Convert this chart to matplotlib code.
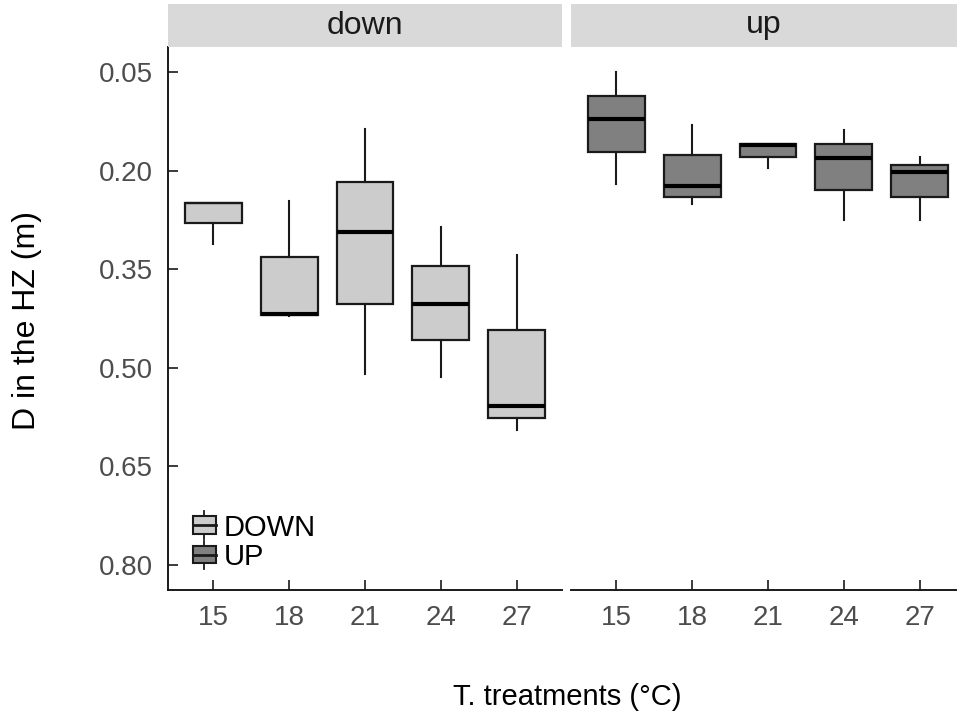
import matplotlib.pyplot as plt
from matplotlib.legend_handler import HandlerBase
from matplotlib.patches import Patch, Rectangle
from matplotlib.lines import Line2D

plt.rcParams['font.family'] = ['Liberation Sans', 'DejaVu Sans']

temps = ["15", "18", "21", "24", "27"]
panels = ["down", "up"]
colors = {"down": "#cccccc", "up": "#808080"}

# box stats: upper whisker, q1, median, q3, lower whisker
down_whislo = [0.2485, 0.2454, 0.1368, 0.285, 0.3281]
down_q1 = [0.2485, 0.3307, 0.2165, 0.3444, 0.4416]
down_med = [0.2485, 0.418, 0.2931, 0.4027, 0.5575]
down_q3 = [0.2798, 0.4194, 0.4027, 0.4575, 0.5757]
down_whishi = [0.3118, 0.421, 0.5092, 0.5142, 0.5949]

up_whislo = [0.050, 0.1298, 0.1587, 0.1378, 0.1789]
up_q1 = [0.0861, 0.1763, 0.1587, 0.1596, 0.1906]
up_med = [0.1211, 0.2235, 0.1607, 0.1809, 0.2017]
up_q3 = [0.1713, 0.2398, 0.1789, 0.2296, 0.2403]
up_whishi = [0.2205, 0.2509, 0.1961, 0.2744, 0.2744]

data = {
    "down": (down_whislo, down_q1, down_med, down_q3, down_whishi),
    "up": (up_whislo, up_q1, up_med, up_q3, up_whishi),
}

BOX_LW = 1.6


class BoxHandler(HandlerBase):
    def create_artists(self, legend, orig_handle, xdescent, ydescent,
                       width, height, fontsize, trans):
        fc = orig_handle.get_facecolor()
        w = width
        x0 = -xdescent
        y0 = -ydescent
        cx = x0 + w / 2
        whisk = Line2D([cx, cx], [y0 - height * 0.3, y0 + height * 1.3],
                       color="#1a1a1a", lw=1.3, transform=trans)
        rect = Rectangle((x0, y0), w, height, facecolor=fc,
                         edgecolor="#1a1a1a", lw=1.5, transform=trans)
        med = Line2D([x0, x0 + w], [y0 + height / 2, y0 + height / 2],
                     color="#1a1a1a", lw=2.0, transform=trans)
        return [whisk, rect, med]


fig = plt.figure(figsize=(9.57, 7.19), dpi=100)
bottom = 1 - 590 / 719
top = 1 - 47 / 719
lefts = [168 / 957, 571 / 957]
width = 394 / 957

axes = []
for i, p in enumerate(panels):
    ax = fig.add_axes([lefts[i], bottom, width, top - bottom])
    wl, q1, md, q3, wh = data[p]
    stats = []
    for j in range(len(temps)):
        stats.append({"whislo": wl[j], "q1": q1[j], "med": md[j],
                      "q3": q3[j], "whishi": wh[j], "fliers": []})
    bp = ax.bxp(stats, positions=range(1, len(temps) + 1), widths=0.75,
                patch_artist=True, showcaps=False, showfliers=False,
                boxprops=dict(facecolor=colors[p], edgecolor="#1a1a1a", lw=BOX_LW),
                medianprops=dict(color="black", lw=3.0),
                whiskerprops=dict(color="#1a1a1a", lw=1.5))
    # median sitting on the box edge is not drawn thicker there
    for j, m in enumerate(bp["medians"]):
        if p == "down" and md[j] == q1[j]:
            m.set_linewidth(BOX_LW)
            m.set_color("#1a1a1a")
    ax.set_xlim(0.4, len(temps) + 0.6)
    ax.set_ylim(0.838, 0.0115)
    ax.set_xticks(range(1, len(temps) + 1))
    ax.set_xticklabels(temps)
    for s in ["top", "right"]:
        ax.spines[s].set_visible(False)
    ax.spines["bottom"].set_color("#1a1a1a")
    ax.spines["bottom"].set_linewidth(1.4)
    ax.tick_params(axis="x", direction="in", length=7, width=1.2,
                   color="#1a1a1a", labelsize=20, labelcolor="#4d4d4d", pad=11)
    if i == 0:
        ax.set_yticks([0.05, 0.20, 0.35, 0.50, 0.65, 0.80])
        ax.set_yticklabels(["0.05", "0.20", "0.35", "0.50", "0.65", "0.80"])
        ax.spines["left"].set_color("#1a1a1a")
        ax.spines["left"].set_linewidth(1.4)
        ax.tick_params(axis="y", direction="in", length=7, width=1.2,
                       color="#1a1a1a", labelsize=20, labelcolor="#4d4d4d", pad=11)
    else:
        ax.spines["left"].set_visible(False)
        ax.set_yticks([])
    # strip
    sw = width if i == 0 else 1 - lefts[i]
    fig.patches.append(Rectangle((lefts[i], top), sw, (47 - 4) / 719,
                                 transform=fig.transFigure,
                                 facecolor="#d9d9d9", edgecolor="none"))
    fig.text(lefts[i] + sw / 2, top + (47 - 4) / 719 / 2, p,
             ha="center", va="center", fontsize=23, color="#1a1a1a")
    axes.append(ax)

handles = [Patch(facecolor=colors["down"], label="DOWN"),
           Patch(facecolor=colors["up"], label="UP")]
axes[0].legend(handles=handles, loc="lower left", bbox_to_anchor=(0.063, 0.035),
               frameon=False, fontsize=21, handlelength=0.8, handleheight=0.55,
               handletextpad=0.25, labelspacing=0.05, borderaxespad=0.0,
               borderpad=0.0, handler_map={Patch: BoxHandler()})

fig.text(27 / 957, 1 - 320 / 719, "D in the HZ (m)", rotation=90,
         ha="center", va="center", fontsize=23, color="black")
fig.text(567 / 957, 1 - 697 / 719, "T. treatments (\u00b0C)",
         ha="center", va="center", fontsize=21, color="black")

fig.savefig("out.png", dpi=100)
